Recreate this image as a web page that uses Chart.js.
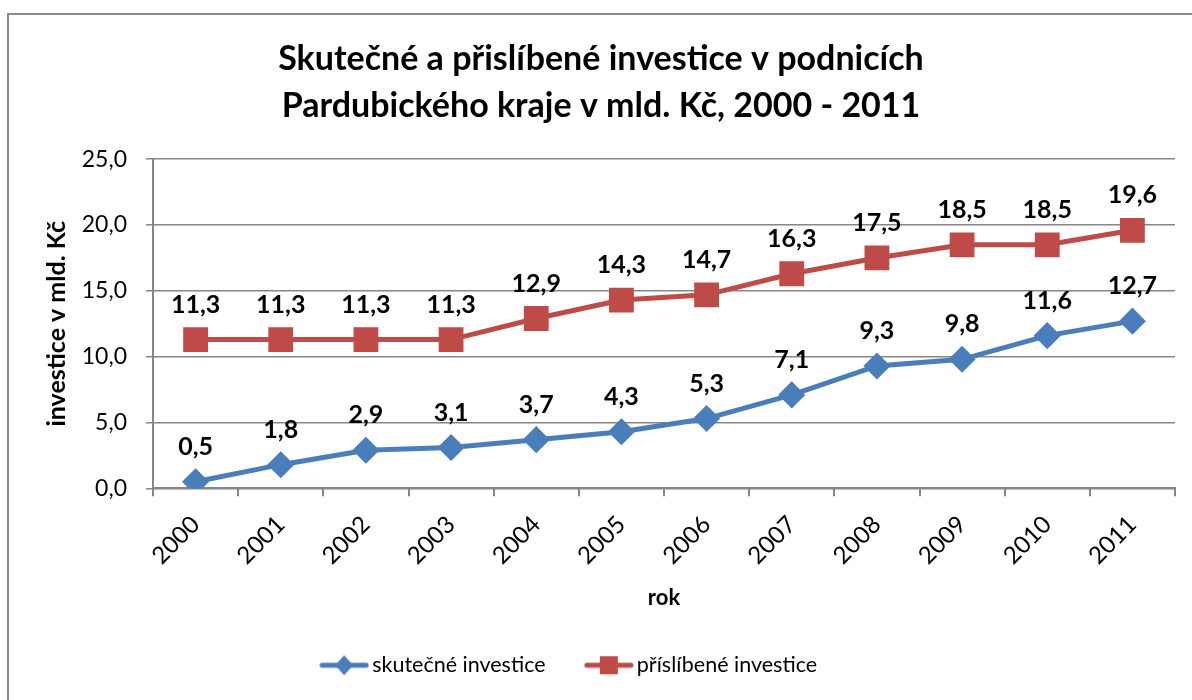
<!DOCTYPE html>
<html>
<head>
<meta charset="utf-8">
<script src="https://cdn.jsdelivr.net/npm/chart.js@4/dist/chart.umd.min.js"></script>
<style>
html,body{margin:0;padding:0;background:#fff;}
#wrap{position:absolute;left:0;top:0;width:1192px;height:700px;}
</style>
</head>
<body>
<div id="wrap"><canvas id="c" width="1192" height="700"></canvas></div>
<script>
const years = ['2000','2001','2002','2003','2004','2005','2006','2007','2008','2009','2010','2011'];
const realInvest = [0.5,1.8,2.9,3.1,3.7,4.3,5.3,7.1,9.3,9.8,11.6,12.7];
const promisedInvest = [11.3,11.3,11.3,11.3,12.9,14.3,14.7,16.3,17.5,18.5,18.5,19.6];
const seriesNames = ['skutečné investice','příslíbené investice'];
const titleLines = ['Skutečné a přislíbené investice v podnicích','Pardubického kraje v mld. Kč, 2000 - 2011'];
const yTitle = 'investice v mld. Kč';
const xTitle = 'rok';

const FONT = 'Lato, "Open Sans", sans-serif';
const BLUE = '#4A7EBB';
const RED = '#BE4B48';
const GRID = '#868686';

function legendIcon(color, style){
  const cv = document.createElement('canvas');
  cv.width = 50; cv.height = 24;
  const g = cv.getContext('2d');
  g.strokeStyle = color; g.lineWidth = 5; g.lineCap = 'round';
  g.beginPath(); g.moveTo(3,12); g.lineTo(47,12); g.stroke();
  g.fillStyle = color;
  if(style==='diamond'){
    g.beginPath(); g.moveTo(25,2); g.lineTo(34,12); g.lineTo(25,22); g.lineTo(16,12); g.closePath(); g.fill();
  } else {
    g.fillRect(16,3,18,18);
  }
  return cv;
}

const borderPlugin = {
  id:'border',
  beforeDraw(chart){
    const ctx = chart.ctx;
    ctx.save();
    ctx.strokeStyle = '#8a8a8a'; ctx.lineWidth = 2;
    ctx.beginPath(); ctx.moveTo(8,700); ctx.lineTo(8,14); ctx.lineTo(1192,14); ctx.stroke();
    ctx.restore();
  },
  afterLayout(chart){
    const lg = chart.legend;
    if(lg){ lg.left -= 29; lg.right -= 29; }
  }
};

const labelPlugin = {
  id:'vlabels',
  afterDatasetsDraw(chart){
    const ctx = chart.ctx;
    ctx.save();
    ctx.font = 'bold 25px ' + FONT;
    ctx.fillStyle = '#000';
    ctx.textAlign = 'center';
    ctx.textBaseline = 'middle';
    chart.data.datasets.forEach((ds,i)=>{
      const meta = chart.getDatasetMeta(i);
      meta.data.forEach((pt,j)=>{
        const v = ds.data[j];
        ctx.fillText(v.toFixed(1).replace('.',','), pt.x, pt.y - 35);
      });
    });
    ctx.restore();
  }
};

new Chart(document.getElementById('c'), {
  type:'line',
  data:{
    labels: years,
    datasets:[
      {label:seriesNames[0], data:realInvest, borderColor:BLUE, backgroundColor:BLUE, borderWidth:5,
       pointStyle:'rectRot', pointRadius:10, pointHoverRadius:10, tension:0},
      {label:seriesNames[1], data:promisedInvest, borderColor:RED, backgroundColor:RED, borderWidth:5,
       pointStyle:'rect', pointRadius:14, pointHoverRadius:14, tension:0}
    ]
  },
  options:{
    responsive:false,
    animation:false,
    events:[],
    layout:{autoPadding:false, padding:{top:35,left:27,right:17,bottom:14}},
    plugins:{
      title:{display:true, text:titleLines, color:'#000', font:{family:FONT, size:34, weight:'bold', lineHeight:1.4}, padding:{top:0,bottom:29}},
      legend:{position:'bottom', labels:{
        color:'#000', font:{family:FONT, size:21.5}, usePointStyle:true, pointStyleWidth:34.5, boxHeight:20, padding:46,
        generateLabels(chart){
          return [
            {text:seriesNames[0], pointStyle:legendIcon(BLUE,'diamond'), fillStyle:BLUE, strokeStyle:BLUE, lineWidth:0, datasetIndex:0, fontColor:'#000'},
            {text:seriesNames[1], pointStyle:legendIcon(RED,'square'), fillStyle:RED, strokeStyle:RED, lineWidth:0, datasetIndex:1, fontColor:'#000'}
          ];
        }
      }},
      tooltip:{enabled:false}
    },
    scales:{
      x:{
        offset:true,
        grid:{display:true, drawOnChartArea:false, drawTicks:true, tickLength:8, offset:true, color:GRID, lineWidth:2},
        border:{color:GRID, width:2},
        ticks:{color:'#000', font:{family:FONT, size:24}, maxRotation:45, minRotation:45, padding:14},
        title:{display:true, text:xTitle, color:'#000', font:{family:FONT, size:22, weight:'bold'}, padding:{top:1,bottom:-3}}
      },
      y:{
        min:0, max:25,
        afterFit(axis){ axis.width = 126; },
        ticks:{stepSize:5, color:'#000', font:{family:FONT, size:23}, padding:19,
          callback:(v)=>Number(v).toFixed(1).replace('.',',')},
        grid:{color:GRID, lineWidth:1.5, tickLength:7},
        border:{color:GRID, width:2},
        title:{display:true, text:yTitle, color:'#000', font:{family:FONT, size:25, weight:'bold'}, padding:{top:15,bottom:4}}
      }
    }
  },
  plugins:[borderPlugin, labelPlugin]
});
</script>
</body>
</html>
